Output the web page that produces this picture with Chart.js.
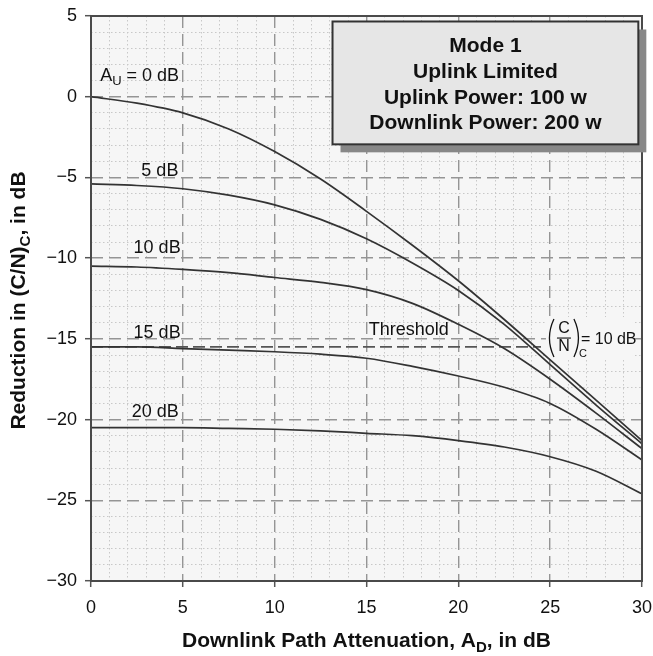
<!DOCTYPE html>
<html>
<head>
<meta charset="utf-8">
<script src="https://cdn.jsdelivr.net/npm/chart.js@4.4.1/dist/chart.umd.min.js"></script>
<style>
  html, body { margin: 0; padding: 0; background: #ffffff; }
  #wrap { width: 653px; height: 656px; }
</style>
</head>
<body>
<div id="wrap"><canvas id="c" width="653" height="656"></canvas></div>
<script>
// ---- data ----
const attenuation = [0, 2.5, 5, 7.5, 10, 12.5, 15, 17.5, 20, 22.5, 25, 27.5, 30];
const au0dB  = [0, -0.4, -1.0, -2.0, -3.4, -5.1, -7.1, -9.2, -11.4, -13.8, -16.3, -18.8, -21.3];
const au5dB  = [-5.4, -5.5, -5.7, -6.1, -6.7, -7.6, -8.8, -10.3, -12.0, -14.1, -16.6, -19.1, -21.5];
const au10dB = [-10.5, -10.55, -10.7, -10.9, -11.2, -11.5, -11.95, -12.8, -14.1, -15.6, -17.5, -19.6, -21.8];
const au15dB = [-15.5, -15.5, -15.6, -15.7, -15.8, -15.95, -16.2, -16.7, -17.3, -18.0, -19.0, -20.6, -22.5];
const au20dB = [-20.5, -20.5, -20.5, -20.55, -20.6, -20.7, -20.85, -21.0, -21.3, -21.7, -22.3, -23.2, -24.6];
const thresholdLevel = -15.5;
const thresholdSpan = [0, 24.5];
const xTickLabels = [0, 5, 10, 15, 20, 25, 30];
const yTickLabels = [5, 0, -5, -10, -15, -20, -25, -30];

const FONT = "'Liberation Sans', Arial, Helvetica, sans-serif";
const CURVE = '#333333';
const PLOT_BG = '#f6f6f6';

function pts(ys) { return attenuation.map((x, i) => ({ x: x, y: ys[i] })); }
function isMajor(ctx) { return ctx.tick && Math.abs(ctx.tick.value % 5) < 1e-9; }

const datasets = [au0dB, au5dB, au10dB, au15dB, au20dB].map(ys => ({
  data: pts(ys),
  borderColor: CURVE,
  borderWidth: 1.7,
  pointRadius: 0,
  cubicInterpolationMode: 'monotone',
  fill: false
}));
datasets.push({
  data: thresholdSpan.map(x => ({ x: x, y: thresholdLevel })),
  borderColor: '#555555',
  borderWidth: 1.8,
  borderDash: [12, 5],
  pointRadius: 0,
  fill: false
});

const gridCfg = {
  color: ctx => isMajor(ctx) ? '#959595' : '#c8c8c8',
  lineWidth: ctx => isMajor(ctx) ? 1.4 : 1,
  tickColor: ctx => isMajor(ctx) ? '#555555' : 'rgba(0,0,0,0)',
  tickLength: 6,
  tickWidth: 1.5,
  drawTicks: true
};
const borderCfg = {
  display: false,
  dash: ctx => !ctx.tick ? [] : (isMajor(ctx) ? [12, 6] : [1.5, 2.5])
};

function minusLabel(v) {
  return (v < 0 ? '\u2212' + Math.abs(v) : String(v));
}

const decor = {
  id: 'decor',
  beforeDraw(chart) {
    const { ctx, chartArea: a } = chart;
    ctx.save();
    ctx.fillStyle = PLOT_BG;
    ctx.fillRect(a.left, a.top, a.right - a.left, a.bottom - a.top);
    ctx.restore();
  },
  beforeDatasetsDraw(chart) {
    const { ctx, scales } = chart;
    const fx = scales.x.getPixelForValue(25.75), fy = scales.y.getPixelForValue(-14.95);
    ctx.save();
    ctx.fillStyle = PLOT_BG;
    ctx.fillRect(fx - 18, fy - 21, 87, 43);
    ctx.restore();
  },
  afterDatasetsDraw(chart) {
    const { ctx, chartArea: a, scales } = chart;
    const X = v => scales.x.getPixelForValue(v);
    const Y = v => scales.y.getPixelForValue(v);
    ctx.save();
    // frame
    ctx.strokeStyle = '#4a4a4a';
    ctx.lineWidth = 2;
    ctx.strokeRect(a.left, a.top, a.right - a.left, a.bottom - a.top);

    // info box
    const bl = X(13.15), br = X(29.8), bt = Y(4.66), bb = Y(-2.95);
    ctx.fillStyle = '#888888';
    ctx.fillRect(bl + 8, bt + 8, br - bl, bb - bt);
    ctx.fillStyle = '#e6e6e6';
    ctx.fillRect(bl, bt, br - bl, bb - bt);
    ctx.strokeStyle = '#333333';
    ctx.lineWidth = 2;
    ctx.strokeRect(bl, bt, br - bl, bb - bt);
    ctx.fillStyle = '#111111';
    ctx.font = 'bold 21px ' + FONT;
    ctx.textAlign = 'center';
    ctx.textBaseline = 'middle';
    const cx = (bl + br) / 2;
    const lines = ['Mode 1', 'Uplink Limited', 'Uplink Power: 100 w', 'Downlink Power: 200 w'];
    const offs = [25, 51, 77, 102];
    lines.forEach((t, i) => ctx.fillText(t, cx, bt + offs[i]));

    // curve labels
    ctx.font = '18px ' + FONT;
    ctx.textAlign = 'left';
    ctx.fillStyle = '#111111';
    // A_U = 0 dB
    let lx = X(0.5), ly = Y(1.3);
    ctx.fillText('A', lx, ly);
    let w = ctx.measureText('A').width;
    ctx.font = '13px ' + FONT;
    ctx.fillText('U', lx + w, ly + 6);
    let w2 = ctx.measureText('U').width;
    ctx.font = '18px ' + FONT;
    ctx.fillText(' = 0 dB', lx + w + w2, ly);

    ctx.textAlign = 'center';
    ctx.fillText('5 dB', X(3.75), Y(-4.6));
    ctx.fillText('10 dB', X(3.6), Y(-9.4));
    ctx.fillText('15 dB', X(3.6), Y(-14.65));
    ctx.fillText('20 dB', X(3.5), Y(-19.55));
    ctx.fillText('Threshold', X(17.3), Y(-14.45));

    // (C/N)_C = 10 dB
    const fx = X(25.75), fy = Y(-14.95);
    ctx.fillStyle = '#111111';
    ctx.font = '16px ' + FONT;
    ctx.fillText('C', fx, fy - 9);
    ctx.fillText('N', fx, fy + 9);
    ctx.strokeStyle = '#111111';
    ctx.lineWidth = 1.1;
    ctx.beginPath();
    ctx.moveTo(fx - 7, fy); ctx.lineTo(fx + 7, fy); ctx.stroke();
    // parentheses
    ctx.lineWidth = 1.3;
    ctx.beginPath();
    ctx.moveTo(fx - 10, fy - 19);
    ctx.quadraticCurveTo(fx - 19, fy, fx - 10, fy + 19);
    ctx.stroke();
    ctx.beginPath();
    ctx.moveTo(fx + 10, fy - 19);
    ctx.quadraticCurveTo(fx + 19, fy, fx + 10, fy + 19);
    ctx.stroke();
    ctx.font = '11px ' + FONT;
    ctx.fillText('C', fx + 19, fy + 16);
    ctx.font = '16px ' + FONT;
    ctx.textAlign = 'left';
    ctx.fillText('= 10 dB', fx + 17, fy + 2);

    // axis titles
    ctx.fillStyle = '#111111';
    ctx.textBaseline = 'alphabetic';
    const xParts = [['Downlink Path Attenuation, A', 21, 0], ['D', 15, 5], [', in dB', 21, 0]];
    drawParts(ctx, xParts, (a.left + a.right) / 2, 647);
    ctx.save();
    ctx.translate(25, (a.top + a.bottom) / 2 + 2);
    ctx.rotate(-Math.PI / 2);
    const yParts = [['Reduction in (C/N)', 21, 0], ['C', 15, 5], [', in dB', 21, 0]];
    drawParts(ctx, yParts, 0, 0);
    ctx.restore();
    ctx.restore();
  }
};

function drawParts(ctx, parts, centerX, baseY) {
  let total = 0;
  parts.forEach(p => { ctx.font = 'bold ' + p[1] + 'px ' + FONT; total += ctx.measureText(p[0]).width; });
  let x = centerX - total / 2;
  ctx.textAlign = 'left';
  parts.forEach(p => {
    ctx.font = 'bold ' + p[1] + 'px ' + FONT;
    ctx.fillText(p[0], x, baseY + p[2]);
    x += ctx.measureText(p[0]).width;
  });
}

new Chart(document.getElementById('c'), {
  type: 'line',
  data: { datasets: datasets },
  options: {
    responsive: false,
    animation: false,
    events: [],
    layout: { padding: { top: 16, right: 11, left: 0, bottom: 0 } },
    plugins: { legend: { display: false }, tooltip: { enabled: false }, title: { display: false } },
    scales: {
      x: {
        type: 'linear',
        min: 0, max: 30,
        afterFit: s => { s.height = 75; s.paddingLeft = 0; s.paddingRight = 0; },
        ticks: {
          stepSize: 1,
          autoSkip: false,
          maxRotation: 0,
          padding: 10,
          color: '#111111',
          font: { family: FONT, size: 18 },
          callback: v => xTickLabels.includes(v) ? String(v) : ''
        },
        grid: gridCfg,
        border: borderCfg
      },
      y: {
        type: 'linear',
        min: -30, max: 5,
        afterFit: s => { s.width = 91; s.paddingTop = 0; s.paddingBottom = 0; },
        ticks: {
          stepSize: 1,
          autoSkip: false,
          padding: 8,
          color: '#111111',
          font: { family: FONT, size: 18 },
          callback: v => yTickLabels.includes(v) ? minusLabel(v) : ''
        },
        grid: gridCfg,
        border: borderCfg
      }
    }
  },
  plugins: [decor]
});
</script>
</body>
</html>
